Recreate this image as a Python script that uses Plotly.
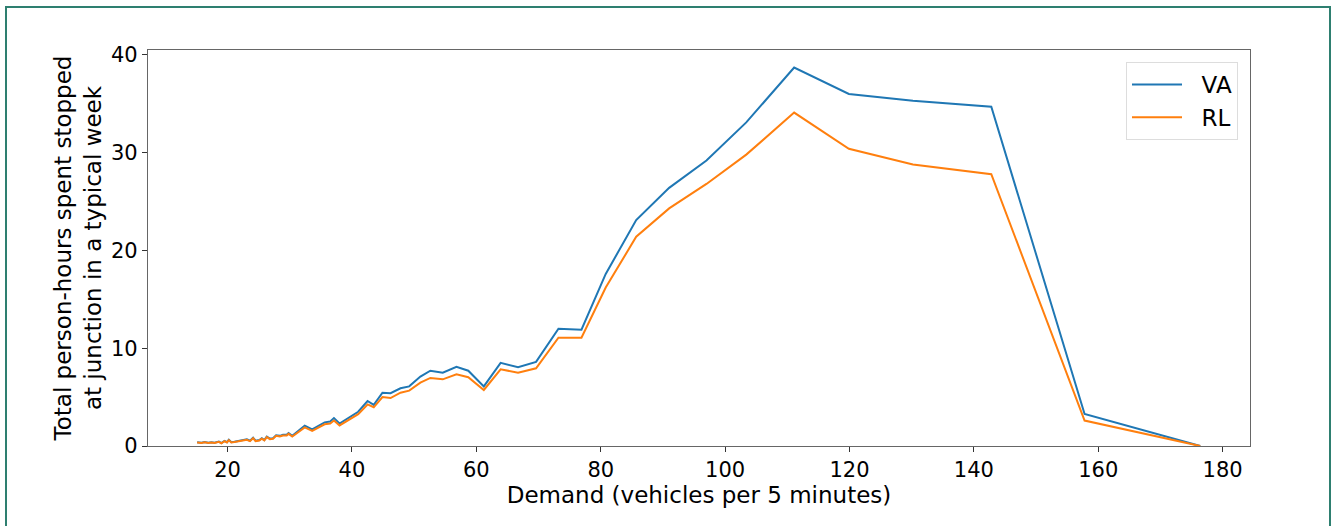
import plotly.graph_objects as go

demand = [15.1, 15.8, 16.3, 16.9, 17.4, 17.9, 18.6, 19.0, 19.5, 19.9, 20.2, 20.6, 21.1, 21.7,
          22.2, 22.8, 23.1, 23.6, 24.1, 24.5, 25.1, 25.5, 25.9, 26.3, 26.8, 27.3, 27.8, 28.4,
          28.9, 29.5, 29.8, 30.4, 31.3, 32.4, 33.6, 34.6, 35.6, 36.5, 37.1, 38.0, 39.4, 41.0,
          42.5, 43.5, 44.9, 46.2, 47.8, 49.2, 51.0, 52.6, 54.6, 56.8, 58.7, 61.2, 63.9, 66.7,
          69.6, 73.2, 76.9, 80.8, 85.7, 91.0, 97.0, 103.4, 111.1, 119.9, 130.2, 142.8, 157.8, 176.4]

va = [0.38, 0.33, 0.41, 0.33, 0.39, 0.33, 0.45, 0.30, 0.53, 0.39, 0.63, 0.39, 0.43, 0.50,
      0.54, 0.58, 0.68, 0.54, 0.85, 0.54, 0.61, 0.79, 0.61, 0.96, 0.76, 0.80, 1.10, 1.04,
      1.15, 1.15, 1.32, 1.05, 1.52, 2.08, 1.70, 2.05, 2.42, 2.50, 2.85, 2.30, 2.85, 3.50,
      4.60, 4.20, 5.45, 5.40, 5.90, 6.10, 7.10, 7.70, 7.50, 8.10, 7.70, 6.10, 8.50, 8.05,
      8.60, 12.0, 11.9, 17.6, 23.1, 26.4, 29.2, 33.1, 38.7, 36.0, 35.3, 34.7, 3.27, 0.0]

rl = [0.35, 0.30, 0.38, 0.30, 0.36, 0.30, 0.42, 0.27, 0.50, 0.36, 0.60, 0.36, 0.40, 0.47,
      0.50, 0.54, 0.64, 0.50, 0.80, 0.50, 0.57, 0.74, 0.57, 0.90, 0.70, 0.74, 1.04, 0.97,
      1.07, 1.07, 1.24, 0.97, 1.40, 1.90, 1.55, 1.90, 2.22, 2.30, 2.60, 2.10, 2.60, 3.25,
      4.25, 3.96, 5.00, 4.90, 5.45, 5.66, 6.48, 6.96, 6.82, 7.33, 7.03, 5.73, 7.84, 7.50,
      7.95, 11.08, 11.08, 16.2, 21.4, 24.3, 26.8, 29.8, 34.1, 30.4, 28.8, 27.8, 2.6, 0.0]

x_ticks = [20, 40, 60, 80, 100, 120, 140, 160, 180]
y_ticks = [0, 10, 20, 30, 40]

FONT = "DejaVu Sans"

fig = go.Figure()
fig.add_trace(go.Scatter(x=demand, y=va, mode="lines", name="\u00a0\u00a0VA",
                         line=dict(color="#1f77b4", width=2)))
fig.add_trace(go.Scatter(x=demand, y=rl, mode="lines", name="\u00a0\u00a0RL",
                         line=dict(color="#ff7f0e", width=2)))

W, H = 1336, 526
# plot area in page pixels: left 148, right 1250, top 50, bottom 446
L, T = 148, 50
R = W - 1250
B = H - 446
pw, ph = W - L - R, H - T - B

def px_x(p):
    return (p - L) / pw

def px_y(p):
    return (H - B - p) / ph

fig.add_shape(type="rect", xref="paper", yref="paper",
              x0=px_x(6), x1=px_x(1330), y0=px_y(600), y1=px_y(7),
              line=dict(color="#2e7f70", width=2), layer="below")

axis_common = dict(showgrid=False, zeroline=False, showline=True, mirror=True,
                   linecolor="#666666", linewidth=1.3, ticks="outside", ticklen=5,
                   tickwidth=1.3, tickcolor="#333333",
                   tickfont=dict(family=FONT, size=21, color="black"))

fig.update_layout(
    width=W, height=H,
    margin=dict(l=L, r=R, t=T, b=B),
    paper_bgcolor="white", plot_bgcolor="white",
    font=dict(family=FONT, size=21, color="black"),
    xaxis=dict(range=[7.2, 184.4], tickvals=x_ticks,
               title=dict(text="Demand (vehicles per 5 minutes)",
                          font=dict(family=FONT, size=23), standoff=1),
               **axis_common),
    yaxis=dict(range=[0, 40.5], tickvals=y_ticks,
               title=dict(text="Total person-hours spent stopped<br>at junction in a typical week",
                          font=dict(family=FONT, size=23), standoff=2),
               **axis_common),
    legend=dict(x=px_x(1238), y=px_y(62), xanchor="right", yanchor="top",
                bgcolor="rgba(255,255,255,0.8)", bordercolor="#dddddd", borderwidth=1,
                font=dict(family=FONT, size=23), itemwidth=50, tracegroupgap=4),
    showlegend=True,
)

fig.write_html("out.html", config={"displayModeBar": False},
               post_script="document.body.style.margin='0';document.body.style.padding='0';")
